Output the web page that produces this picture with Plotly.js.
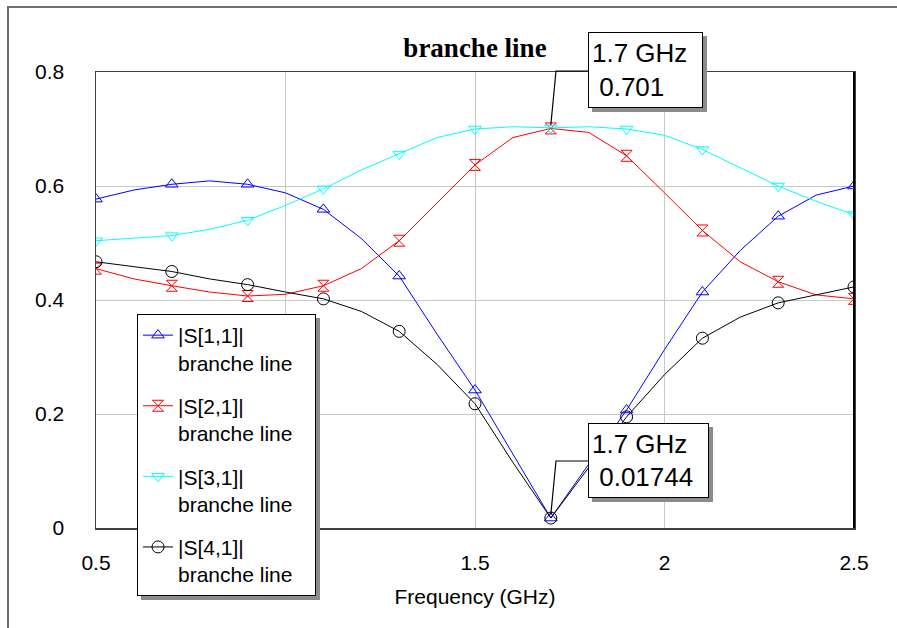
<!DOCTYPE html>
<html>
<head>
<meta charset="utf-8">
<script src="https://cdn.plot.ly/plotly-3.0.1.min.js"></script>
<style>html,body{margin:0;padding:0;background:#fff;}#chart{width:897px;height:628px;}</style>
</head>
<body>
<div id="chart"></div>
<script>
// Frequency samples (GHz)
const freq = [0.5,0.6,0.7,0.8,0.9,1.0,1.1,1.2,1.3,1.4,1.5,1.6,1.7,1.8,1.9,2.0,2.1,2.2,2.3,2.4,2.5];
// |S[1,1]|
const s11 = [0.577,0.593,0.603,0.609,0.603,0.588,0.559,0.508,0.442,0.340,0.242,0.130,0.01744,0.112,0.207,0.313,0.414,0.487,0.547,0.584,0.600];
// |S[2,1]|
const s21 = [0.455,0.437,0.425,0.414,0.407,0.410,0.425,0.455,0.504,0.570,0.637,0.685,0.701,0.694,0.653,0.588,0.522,0.467,0.432,0.409,0.402];
// |S[3,1]|
const s31 = [0.504,0.508,0.513,0.524,0.540,0.566,0.595,0.628,0.656,0.685,0.700,0.704,0.702,0.704,0.700,0.689,0.664,0.632,0.600,0.573,0.550];
// |S[4,1]|
const s41 = [0.467,0.458,0.450,0.437,0.427,0.414,0.402,0.380,0.345,0.287,0.218,0.115,0.01744,0.106,0.195,0.269,0.333,0.370,0.395,0.409,0.423];

const seriesNames = ['|S[1,1]|','|S[2,1]|','|S[3,1]|','|S[4,1]|'];
const seriesSub = 'branche line';
const xTicks = [0.5,1,1.5,2,2.5];
const xTickText = ['0.5','','1.5','2','2.5']; // "1" is hidden behind the legend in the reference
const yTicks = [0,0.2,0.4,0.6,0.8];
const yTickText = ['0','0.2','0.4','0.6','0.8'];
const markerFreqIndex = 12; // 1.7 GHz marker readouts

const series = [s11,s21,s31,s41];
const colors = ['#0000ff','#ff0000','#00ffff','#000000'];
const symbols = ['triangle-up-open','hourglass-open','triangle-down-open','circle-open'];
const msizes = [11,11,11,12];

const FONT = 'Liberation Sans, Arial, sans-serif';
// plot area in pixels
const L=96, R=854, T=72, B=528;
const xRange=[0.5,2.5], yRange=[0,0.8];
const pxX = px => (px-L)/(R-L);
const pxY = py => (B-py)/(B-T);
const dX = x => (x-xRange[0])/(xRange[1]-xRange[0]);
const dY = y => (y-yRange[0])/(yRange[1]-yRange[0]);

const traces = [];
series.forEach((s,i)=>{
  traces.push({x:freq,y:s,mode:'lines',line:{color:colors[i],width:1},showlegend:false,hoverinfo:'skip'});
  const mx=[],my=[];
  freq.forEach((f,k)=>{ if(k%2===0){mx.push(f);my.push(s[k]);} });
  traces.push({x:mx,y:my,mode:'markers',marker:{symbol:symbols[i],size:msizes[i],color:colors[i],line:{color:colors[i],width:1}},showlegend:false});
});
series.forEach((s,i)=>{
  traces.push({x:[null],y:[null],mode:'lines+markers',name:seriesNames[i]+'<br>'+seriesSub+'\u00a0\u00a0\u00a0',
    legendgroup:'g'+i,line:{color:colors[i],width:1},
    marker:{symbol:symbols[i],size:msizes[i],color:colors[i],line:{color:colors[i],width:1}}});
});

const shapes = [];
shapes.push({type:'path',xref:'paper',yref:'paper',path:`M ${pxX(8)} ${pxY(700)} L ${pxX(8)} ${pxY(7)} L ${pxX(1000)} ${pxY(7)}`,line:{color:'#6e6e6e',width:2}});
shapes.push({type:'line',xref:'paper',yref:'paper',x0:1,x1:1,y0:0,y1:1,line:{color:'#000',width:2}});
shapes.push({type:'rect',xref:'paper',yref:'paper',x0:pxX(141),x1:pxX(320),y0:pxY(600),y1:pxY(318),fillcolor:'#8c8c8c',line:{width:0}});

const annotations = [];
function callout(boxL,boxT,boxR,boxBt,leadY,yVal,txt){
  shapes.push({type:'rect',xref:'paper',yref:'paper',x0:pxX(boxL+4),x1:pxX(boxR+4),y0:pxY(boxBt+4),y1:pxY(boxT+4),fillcolor:'#8c8c8c',line:{width:0},layer:'above'});
  const xp = dX(freq[markerFreqIndex]);
  const yp = dY(yVal);
  shapes.push({type:'path',xref:'paper',yref:'paper',path:`M ${pxX(boxL)} ${pxY(leadY)} L ${pxX(556)} ${pxY(leadY)} L ${xp} ${yp+0.007}`,line:{color:'#000',width:1.2},layer:'above'});
  annotations.push({xref:'paper',yref:'paper',x:pxX(boxL),y:pxY(boxT),xanchor:'left',yanchor:'top',
    text:txt,align:'left',valign:'middle',showarrow:false,
    width:boxR-boxL-8,height:boxBt-boxT-8,borderpad:3,borderwidth:1,bordercolor:'#000',bgcolor:'#fff',
    font:{family:FONT,size:26,color:'#000'}});
}
callout(588,32,703,108,71,s21[markerFreqIndex],freq[markerFreqIndex]+' GHz<br>\u00a0'+s21[markerFreqIndex]);
callout(588,423,709,498,461,s11[markerFreqIndex],freq[markerFreqIndex]+' GHz<br>\u00a0'+s11[markerFreqIndex]);

const layout = {
  width:897,height:628,
  margin:{l:L,r:897-R,t:T,b:628-B,pad:0},
  paper_bgcolor:'#fff',plot_bgcolor:'#fff',
  title:{text:'<b>branche line</b>',font:{family:'Liberation Serif, Times New Roman, serif',size:27,color:'#000'},
    x:0.5,xref:'paper',xanchor:'center',y:1-48/628,yanchor:'middle'},
  xaxis:{range:xRange,tickvals:xTicks,ticktext:xTickText,showgrid:true,gridcolor:'#c8c8c8',gridwidth:1,
    zeroline:false,showline:true,mirror:true,linecolor:'#404040',linewidth:1.5,ticks:'',
    ticklabelstandoff:15,tickfont:{family:FONT,size:21,color:'#000'},
    title:{text:'Frequency (GHz)',font:{family:FONT,size:21,color:'#000'},standoff:16}},
  yaxis:{range:yRange,tickvals:yTicks,ticktext:yTickText,showgrid:true,gridcolor:'#c8c8c8',gridwidth:1,
    zeroline:false,showline:true,mirror:true,linecolor:'#404040',linewidth:1.5,ticks:'',
    ticklabelstandoff:26,tickfont:{family:FONT,size:21,color:'#000'}},
  legend:{x:pxX(137),y:pxY(314),xanchor:'left',yanchor:'top',bgcolor:'#fff',bordercolor:'#000',borderwidth:1,
    font:{family:FONT,size:21,color:'#000'},valign:'top',tracegroupgap:13,traceorder:'grouped'},
  shapes:shapes,annotations:annotations,showlegend:true,hovermode:false
};
Plotly.newPlot('chart',traces,layout,{displayModeBar:false,staticPlot:true});
</script>
</body>
</html>
